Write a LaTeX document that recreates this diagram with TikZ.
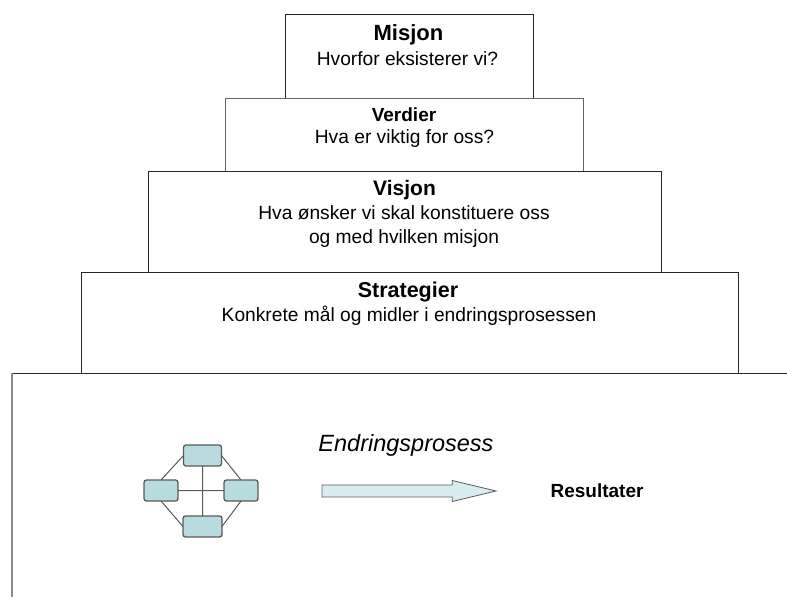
\documentclass[tikz,border=0pt]{standalone}
\usepackage{fontspec}
\setmainfont{Liberation Sans}
\usetikzlibrary{arrows,positioning,shapes.arrows}

\definecolor{rolefill}{HTML}{B7DBDF}
\definecolor{arrowfill}{HTML}{D9ECEF}
\definecolor{edgegray}{HTML}{5A5A5A}

\tikzset{
  level/.style={draw=black!85,line width=0.9pt,outer sep=0pt,inner sep=0pt},
  title/.style={font=\bfseries,inner sep=0pt},
  sub/.style={font=\fontsize{19.2}{24}\selectfont,align=center,inner sep=0pt},
  role/.style={draw=edgegray,line width=1.3pt,fill=rolefill,rounded corners=2.5pt,
    minimum height=21pt,inner sep=0pt,outer sep=0pt},
  link/.style={draw=edgegray,line width=1pt}
}

\begin{document}
\begin{tikzpicture}[x=1pt,y=-1pt]
  \useasboundingbox (0,0) rectangle (787,597);
  % the steps of the pyramid
  \node[level,minimum width=248pt,minimum height=84pt]  (misjon) at (409,56) {};
  \node[level,draw=black!60,minimum width=358pt,minimum height=73pt]  (verdier) [below=0pt of misjon,xshift=-5pt] {};
  \node[level,minimum width=513pt,minimum height=101pt] (visjon) [below=0pt of verdier,xshift=0.5pt] {};
  \node[level,minimum width=657pt,minimum height=101pt] (strategier) [below=0pt of visjon,xshift=5pt] {};
  \node[minimum width=775pt,minimum height=224pt,inner sep=0pt,outer sep=0pt] (base) [below=0pt of strategier,xshift=-10pt] {};
  \draw[draw=black!85,line width=0.9pt] (base.north west) -- (base.north east);
  \draw[draw=black!45,line width=1.4pt] (base.north west) -- (base.south west);

  % texts
  \node[title,font=\bfseries\fontsize{22}{24}\selectfont] (misjon_t) at (408.5,35) {Misjon};
  \node[sub]   (misjon_s) at (407.5,59) {Hvorfor eksisterer vi?};
  \node[title,font=\bfseries\fontsize{19}{22}\selectfont] (verdier_t) at (404,115) {Verdier};
  \node[sub]   (verdier_s) at (404.5,139) {Hva er viktig for oss?};
  \node[title,font=\bfseries\fontsize{21}{24}\selectfont] (visjon_t) at (404.5,190) {Visjon};
  \node[sub]   (visjon_s) at (404,227) {Hva ønsker vi skal konstituere oss\\og med hvilken misjon};
  \node[title,font=\bfseries\fontsize{21.5}{24}\selectfont] (strategier_t) at (408,292) {Strategier};
  \node[sub]   (strategier_s) at (409,316) {Konkrete mål og midler i endringsprosessen};
  \node[inner sep=0pt,font=\itshape\fontsize{23.5}{26}\selectfont] (prosess) at (406,445) {Endringsprosess};
  \node[title,font=\bfseries\fontsize{19}{22}\selectfont] (resultater) at (597,491) {Resultater};

  % the small network
  \node[role,minimum width=38pt] (r_top) at (202.5,455.5) {};
  \node[role,minimum width=34pt] (r_left) at (161,490.5) {};
  \node[role,minimum width=34pt] (r_right) at (241,490.5) {};
  \node[role,minimum width=39pt] (r_bottom) at (202.5,526.5) {};
  \path[link]
  (r_top) -- (r_bottom)
  (r_left) -- (r_right)
  (r_top.west) -- (r_left.north)
  (r_top.east) -- (r_right.north)
  (r_bottom.west) -- (r_left.south)
  (r_bottom.east) -- (r_right.south);

  % the arrow
  \node[single arrow,draw=edgegray,line width=0.8pt,fill=arrowfill,inner sep=0pt,outer sep=0pt,
    text height=11pt,text depth=0pt,text width=0pt,minimum width=21pt,minimum height=174pt,
    single arrow head extend=4.5pt,single arrow tip angle=27,single arrow head indent=0pt,anchor=tip]
    (pil) at (496,491) {};
\end{tikzpicture}
\end{document}
